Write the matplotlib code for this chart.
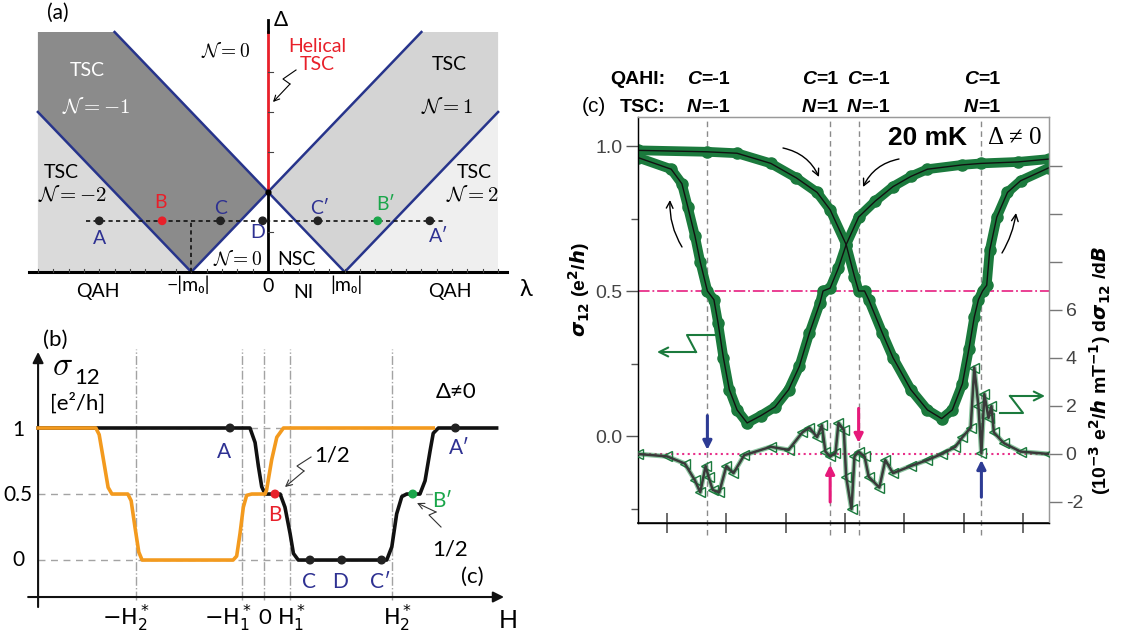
import matplotlib
matplotlib.use('Agg')
import matplotlib.pyplot as plt
from matplotlib.patches import Polygon, FancyArrowPatch
from matplotlib.lines import Line2D
import numpy as np

# ---------------- data ----------------
# panel (a): phase diagram
m0 = 1.0
lam_max = 3.0
delta_max = 3.0
dotted_delta = 0.64
pts_a_lam = [-2.20, -1.38, -0.62, -0.07, 0.65, 1.43, 2.11]
pts_a_col = ['#222222', '#e8202a', '#222222', '#222222', '#222222', '#1aa64a', '#222222']
labels_a = ['A', 'B', 'C', 'D', 'C\u2032', 'B\u2032', 'A\u2032']
labels_a_lam = [-2.20, -1.40, -0.62, -0.14, 0.68, 1.54, 2.23]
labels_a_delta = [0.425, 0.875, 0.80, 0.49, 0.80, 0.84, 0.44]
labels_a_col = ['#2e3192', '#e8202a', '#2e3192', '#2e3192', '#2e3192', '#1aa64a', '#2e3192']

# panel (b): schematic sigma12 vs H
H1s, H1s_neg, H2s = 1.0, -0.87, 5.0
black_H = [-8.84, -0.55, -0.35, -0.22, -0.09, 0.04, 0.63, 0.82, 1.02, 1.15, 1.34,
           4.80, 5.00, 5.19, 5.39, 5.58, 6.10, 6.30, 6.50, 6.62, 6.82, 9.10]
black_s = [1.0, 1.0, 0.89, 0.71, 0.555, 0.5, 0.5, 0.40, 0.20, 0.05, 0.0,
           0.0, 0.10, 0.35, 0.48, 0.5, 0.5, 0.60, 0.83, 0.96, 1.0, 1.0]
orange_H = [-8.84, -6.58, -6.45, -6.30, -6.10, -5.95, -5.33, -5.20, -5.05, -4.90, -4.77,
            -1.21, -1.07, -0.94, -0.81, -0.68, -0.48, 0.04, 0.10, 0.30, 0.50, 0.76, 6.62]
orange_s = [1.0, 1.0, 0.95, 0.78, 0.55, 0.5, 0.5, 0.45, 0.25, 0.06, 0.0,
            0.0, 0.03, 0.20, 0.40, 0.49, 0.5, 0.5, 0.53, 0.76, 0.93, 1.0, 1.0]
pts_b_H = [-1.33, 0.43, 1.80, 3.04, 4.60, 5.82, 7.49]
pts_b_s = [1.0, 0.5, 0.0, 0.0, 0.0, 0.5, 1.0]
pts_b_col = ['#222222', '#e8202a', '#222222', '#222222', '#222222', '#1aa64a', '#222222']
labels_b = ['A', 'B', 'C', 'D', 'C\u2032', 'B\u2032', 'A\u2032']
labels_b_H = [-1.56, 0.43, 1.76, 2.97, 4.54, 6.96, 7.63]
labels_b_s = [0.82, 0.34, -0.17, -0.17, -0.17, 0.45, 0.85]
labels_b_col = ['#2e3192', '#e8202a', '#2e3192', '#2e3192', '#2e3192', '#1aa64a', '#2e3192']
xtick_b_pos = [-5.4, -1.4, 0.04, 1.1, 5.24]
xtick_b_lab = [r'$-\mathrm{H}_2^*$', r'$-\mathrm{H}_1^*$', '0', r'$\mathrm{H}_1^*$', r'$\mathrm{H}_2^*$']

# panel (c): measured sigma12 and derivative
uA = [-3.49, -2.32, -1.82, -1.25, -0.82, -0.47, -0.25, 0.02, 0.16, 0.23,
      0.33, 0.40, 0.63, 0.81, 1.11, 1.39, 1.63, 1.81, 1.98, 2.09,
      2.18, 2.25, 2.32, 2.39, 2.44, 2.56, 2.74, 2.96, 3.44]
sA = [0.985, 0.98, 0.975, 0.94, 0.89, 0.84, 0.78, 0.66, 0.55, 0.50,
      0.50, 0.47, 0.355, 0.27, 0.16, 0.09, 0.06, 0.09, 0.18, 0.30,
      0.41, 0.47, 0.50, 0.52, 0.64, 0.755, 0.84, 0.88, 0.925]
uB = [3.44, 2.91, 2.30, 1.98, 1.39, 1.11, 0.81, 0.51, 0.23, 0.02,
      -0.11, -0.25, -0.37, -0.42, -0.60, -0.77, -0.95, -1.18, -1.42, -1.65,
      -1.82, -1.95, -2.05, -2.14, -2.21, -2.32, -2.44, -2.53, -2.65, -2.75,
      -2.93, -3.49]
sB = [0.955, 0.945, 0.94, 0.935, 0.92, 0.895, 0.86, 0.81, 0.755, 0.66,
      0.58, 0.51, 0.50, 0.46, 0.355, 0.24, 0.16, 0.10, 0.07, 0.045,
      0.09, 0.16, 0.27, 0.39, 0.47, 0.50, 0.60, 0.69, 0.79, 0.87,
      0.92, 0.96]
uD = [-3.49, -3.0, -2.70, -2.53, -2.44, -2.35, -2.30, -2.23, -2.12, -2.0,
      -1.88, -1.70, -1.25, -0.95, -0.72, -0.60, -0.47, -0.39, -0.33, -0.25,
      -0.16, -0.11, -0.02, 0.02, 0.11, 0.16, 0.23, 0.33, 0.40, 0.58,
      0.68, 0.81, 1.11, 1.39, 1.63, 1.86, 1.98, 2.12, 2.18, 2.25,
      2.30, 2.35, 2.42, 2.47, 2.51, 2.68, 2.96, 3.44]
dD = [0, -0.1, -0.4, -1.1, -1.6, -0.5, -0.95, -1.5, -1.6, -0.5,
      -0.8, -0.05, 0.3, 0.17, 0.9, 1.1, 0.7, 1.2, 0.1, -0.1,
      0.04, 1.3, 1.0, -0.95, -2.3, -0.1, 0.1, -0.1, -0.95, -1.4,
      -0.25, -0.8, -0.5, -0.25, 0, 0.3, 0.7, 1.1, 3.6, 2.0,
      0.04, 2.5, 1.5, 2.0, 0.9, 0.45, 0.1, 0]
trans_u = [-2.32, -0.25, 0.23, 2.30]
c_labels = ['-1', '1', '-1', '1']

# ---------------- figure ----------------
W, H = 1127, 639
plt.rcParams['font.family'] = ['Lato', 'DejaVu Sans']
plt.rcParams['mathtext.fontset'] = 'cm'
fig = plt.figure(figsize=(W / 100, H / 100), dpi=100)


def ftext(x, y, s, **kw):
    kw.setdefault('ha', 'center')
    kw.setdefault('va', 'center')
    return fig.text(x / W, 1 - y / H, s, **kw)


def zig(pts, color, lw=1.0, ms=12, style='->'):
    xs = [p[0] / W for p in pts]
    ys = [1 - p[1] / H for p in pts]
    fig.add_artist(Line2D(xs[:-1], ys[:-1], color=color, lw=lw, transform=fig.transFigure))
    fig.add_artist(FancyArrowPatch((xs[-2], ys[-2]), (xs[-1], ys[-1]), transform=fig.transFigure,
                                   arrowstyle=style, mutation_scale=ms, color=color, lw=lw,
                                   shrinkA=0, shrinkB=0))


def curved(p0, p1, rad, color='k', lw=1.0):
    fig.add_artist(FancyArrowPatch((p0[0] / W, 1 - p0[1] / H), (p1[0] / W, 1 - p1[1] / H),
                                   transform=fig.transFigure, connectionstyle=f'arc3,rad={rad}',
                                   arrowstyle='->', mutation_scale=12, color=color, lw=lw,
                                   shrinkA=0, shrinkB=0))


# ======== panel (a) ========
axa = fig.add_axes([0, 1 - 310 / H, 560 / W, 310 / H])
axa.set_xlim(-3.494, 3.807)
axa.set_ylim(-0.475, 3.4)
axa.axis('off')
L, D, m = lam_max, delta_max, m0
dark = [(-m, 0), (0, m), (-(D - m), D), (-L, D), (-L, L - m)]
n1 = [(m, 0), (0, m), (D - m, D), (L, D), (L, L - m)]
nm2 = [(-L, 0), (-m, 0), (-L, L - m)]
n2 = [(m, 0), (L, 0), (L, L - m)]
for poly, col in [(dark, '#8b8b8b'), (n1, '#d4d4d4'), (nm2, '#dadada'), (n2, '#efefef')]:
    axa.add_patch(Polygon(poly, closed=True, facecolor=col, edgecolor='none', zorder=1))
navy = '#27348b'
for (x0, y0), (x1, y1) in [((-m, 0), (D - m, D)), ((m, 0), (-(D - m), D)),
                           ((-m, 0), (-L, L - m)), ((m, 0), (L, L - m))]:
    axa.plot([x0, x1], [y0, y1], color=navy, lw=1.8, zorder=3)
axa.plot([-3.12, 3.12], [0, 0], color='k', lw=2.2, zorder=4)
for t in np.arange(-3.0, 3.01, 0.2):
    axa.plot([t, t], [0, 0.04], color='#444', lw=0.8, zorder=4)
axa.plot([0, 0], [0, m], color='k', lw=2, zorder=4)
axa.plot([0, 0], [m, D], color='#e8202a', lw=2, zorder=4)
axa.plot([0, 0], [D, 3.15], color='k', lw=2, zorder=4)
for t in [0.5, 1.5, 2.0, 2.5]:
    axa.plot([0, 0.06], [t, t], color='#444', lw=0.8, zorder=4)
axa.plot([-2.37, 2.29], [dotted_delta, dotted_delta], color='#111', lw=1.2,
         dashes=(2.5, 2), zorder=5)
axa.plot([-m, -m], [0, dotted_delta], color='#111', lw=1.2, dashes=(2.5, 2), zorder=5)
axa.scatter(pts_a_lam, [dotted_delta] * len(pts_a_lam), s=28, c=pts_a_col, zorder=6)
axa.scatter([0], [m], s=12, c='k', zorder=6)
for s, lx, ly, c in zip(labels_a, labels_a_lam, labels_a_delta, labels_a_col):
    axa.text(lx, ly, s, color=c, fontsize=14, ha='center', va='center', zorder=7)

ftext(58, 13, '(a)', fontsize=15)
ftext(281, 20, '\u0394', fontsize=15)
ftext(317, 47, 'Helical', fontsize=14, color='#e8202a')
ftext(317, 65, 'TSC', fontsize=14, color='#e8202a')
zig([(296, 70), (283, 79), (290, 84), (273, 102)], 'k', lw=0.8, ms=10)
ftext(226, 50, r'$\mathcal{N}=0$', fontsize=14)
ftext(87, 70, 'TSC', fontsize=14, color='white')
ftext(96, 106, r'$\mathcal{N}=-1$', fontsize=15, color='white')
ftext(449, 65, 'TSC', fontsize=14)
ftext(447, 106, r'$\mathcal{N}=1$', fontsize=15)
ftext(61, 172, 'TSC', fontsize=14)
ftext(72, 195, r'$\mathcal{N}=-2$', fontsize=15)
ftext(474, 172, 'TSC', fontsize=14)
ftext(472, 195, r'$\mathcal{N}=2$', fontsize=15)
ftext(238, 258, r'$\mathcal{N}=0$', fontsize=14)
ftext(296, 259, 'NSC', fontsize=14)
ftext(98, 292, 'QAH', fontsize=14)
ftext(188, 285, '\u2212|m\u2080|', fontsize=14)
ftext(268, 287, '0', fontsize=14)
ftext(303, 293, 'NI', fontsize=14)
ftext(346, 285, '|m\u2080|', fontsize=14)
ftext(450, 292, 'QAH', fontsize=14)
ftext(526, 290, '\u03bb', fontsize=17)

# ======== panel (b) ========
axb = fig.add_axes([0, 0, 560 / W, 319 / H])
axb.set_xlim(-10.33, 11.58)
axb.set_ylim(-0.598, 1.818)
axb.axis('off')
grey = '#a3a3a3'
for hv in [-H2s, H1s_neg, 0.0, H1s, H2s]:
    axb.plot([hv, hv], [-0.30, 1.60], color=grey, lw=1.0, ls='-.', zorder=1)
axb.plot([-8.84, 4.94], [1.0, 1.0], color=grey, lw=1.0, dashes=(5, 4), zorder=1)
axb.plot([-8.84, 6.75], [0.5, 0.5], color=grey, lw=1.0, dashes=(5, 4), zorder=1)
axb.plot([-8.84, 4.94], [0.0, 0.0], color=grey, lw=1.0, dashes=(5, 4), zorder=1)
axb.annotate('', xy=(9.39, -0.28), xytext=(-9.23, -0.28),
             arrowprops=dict(arrowstyle='-|>', lw=1.5, color='#111', mutation_scale=16,
                             shrinkA=0, shrinkB=0))
axb.annotate('', xy=(-8.84, 1.576), xytext=(-8.84, -0.356),
             arrowprops=dict(arrowstyle='-|>', lw=1.5, color='#111', mutation_scale=16,
                             shrinkA=0, shrinkB=0))
axb.plot(black_H, black_s, color='#111', lw=2.6, zorder=3, solid_joinstyle='round')
axb.plot(orange_H, orange_s, color='#f39a1e', lw=2.6, zorder=4, solid_joinstyle='round')
axb.scatter(pts_b_H, pts_b_s, s=30, c=pts_b_col, zorder=6)
for s, lx, ly, c in zip(labels_b, labels_b_H, labels_b_s, labels_b_col):
    axb.text(lx, ly, s, color=c, fontsize=15, ha='center', va='center', zorder=7)
for p, lab in zip(xtick_b_pos, xtick_b_lab):
    axb.text(p, -0.44, lab, fontsize=16, ha='center', va='center', math_fontfamily='dejavusans')
ftext(508, 620, 'H', fontsize=18)
ftext(18, 430, '1', fontsize=15)
ftext(33, 495, '0.5', fontsize=15, ha='right')
ftext(18, 560, '0', fontsize=15)
ftext(55, 340, '(b)', fontsize=16)
ftext(62, 366, r'$\sigma$', fontsize=24)
ftext(87, 378, '12', fontsize=16)
ftext(78, 403, '[e\u00b2/h]', fontsize=16)
ftext(456, 392, '\u0394\u22600', fontsize=16)
ftext(472, 577, '(c)', fontsize=16)
ftext(332, 455, '1/2', fontsize=16)
zig([(311, 457), (297, 466), (304, 471), (285, 487)], '#333', lw=0.8, ms=11)
ftext(450, 550, '1/2', fontsize=16)
zig([(441, 527), (429, 515), (436, 512), (417, 503)], '#333', lw=0.8, ms=11)

# ======== panel (c) ========
green = '#1b7a3d'
axc = fig.add_axes([638 / W, 1 - 523 / H, (1049 - 638) / W, (523 - 117) / H])
axc.set_xlim(-3.49, 3.44)
axc.set_ylim(-0.3, 1.1)
axr = axc.twinx()
axr.set_ylim(-2.875, 14.04)
for ax in (axc, axr):
    ax.patch.set_visible(False)
axc.spines['left'].set_color('#555')
axc.spines['bottom'].set_color('#222')
axc.spines['top'].set_color('#999')
axc.spines['right'].set_color('#999')
axr.spines['right'].set_color('#999')
axr.spines['top'].set_color('#999')
for sp in axr.spines.values():
    sp.set_linewidth(1.0)
axc.spines['bottom'].set_linewidth(1.3)

axc.set_xticks([-3, -2, -1, 0, 1, 2, 3])
axc.tick_params(axis='x', direction='inout', length=14, width=1.1, color='#444', labelbottom=False)
axc.set_yticks([0.0, 0.5, 1.0])
axc.set_yticklabels(['0.0', '0.5', '1.0'], fontfamily='Liberation Sans', fontsize=14, color='#444')
axc.set_yticks([-0.25, 0.25, 0.75], minor=True)
axc.tick_params(axis='y', which='major', direction='out', length=9, width=1, color='#555', pad=2)
axc.tick_params(axis='y', which='minor', direction='out', length=5, width=1, color='#555')
rt = [-2, 0, 2, 4, 6, 8, 10, 12]
axr.set_yticks(rt)
axr.set_yticklabels([str(v) if v <= 6 else '' for v in rt], fontfamily='Liberation Sans',
                    fontsize=14, color='#444')
axr.tick_params(axis='y', direction='out', length=9, width=1, color='#777', pad=3)

axc.axhline(0.5, color='#e8308a', lw=1.3, ls='-.', zorder=1)
axr.axhline(0.0, color='#e8308a', lw=1.5, ls=':', zorder=1)
for u in trans_u:
    axc.axvline(u, ymin=-0.03, ymax=1.0, color='#8a8a8a', lw=1.0, dashes=(4, 3), clip_on=False, zorder=1)

for uu, ss in [(uA, sA), (uB, sB)]:
    axc.plot(uu, ss, color=green, lw=7, solid_capstyle='round', solid_joinstyle='round', zorder=2)
    axc.plot(uu, ss, 'o', color=green, ms=8, zorder=3)
    axc.plot(uu, ss, color='#111', lw=1.0, zorder=4)

axr.plot(uD, dD, color='#2f9a55', lw=3.5, alpha=0.55, zorder=2)
axr.plot(uD, dD, '<', mfc='none', mec=green, ms=7, mew=1.0, zorder=3)
axr.plot(uD, dD, color='#3a3a3a', lw=1.8, zorder=4)

blue = '#2d3b94'
mag = '#e6197a'
for u, y0, y1, c in [(-2.32, 1.6, 0.17, blue), (2.30, -1.8, -0.25, blue),
                     (-0.25, -2.0, -0.45, mag), (0.23, 1.9, 0.46, mag)]:
    axr.annotate('', xy=(u, y1), xytext=(u, y0),
                 arrowprops=dict(arrowstyle='-|>', color=c, lw=2.2, mutation_scale=13,
                                 shrinkA=0, shrinkB=0))

# labels of panel (c)
fc = 'Liberation Sans'
ftext(665, 80, 'QAHI:', fontsize=14, fontweight='bold', ha='right', family=fc)
ftext(665, 107, 'TSC:', fontsize=14, fontweight='bold', ha='right', family=fc)
ftext(594, 107, '(c)', fontsize=15, family=fc)
c_centers = [708, 820, 868, 982]
for cx, lab in zip(c_centers, c_labels):
    w_rest = 28 if lab == '-1' else 22
    x0 = cx - (14 + w_rest) / 2 + 14
    ftext(x0, 80, 'C', fontsize=14, fontweight='bold', style='italic', ha='right', family=fc)
    ftext(x0, 80, '=' + lab, fontsize=14, fontweight='bold', ha='left', family=fc)
    ftext(x0, 107, 'N', fontsize=14, fontweight='bold', style='italic', ha='right', family=fc)
    ftext(x0, 107, '=' + lab, fontsize=14, fontweight='bold', ha='left', family=fc)
ftext(927, 138, '20 mK', fontsize=19, fontweight='bold', family=fc)
ftext(1015, 138, '\u0394 \u2260 0', fontsize=18, family=['Liberation Serif', 'DejaVu Serif'])
fig.text(579 / W, 1 - 290 / H, r'$\boldsymbol{\sigma}_{\mathbf{12}}$ (e$^{\mathbf{2}}$/$\boldsymbol{h}$)',
         fontsize=14, fontweight='bold', family=fc, rotation=90, ha='center', va='center',
         math_fontfamily='dejavusans')
fig.text(1100 / W, 1 - 370 / H,
         r'(10$^{\mathbf{-3}}$ e$^{\mathbf{2}}$/$\boldsymbol{h}$ mT$^{\mathbf{-1}}$) d$\boldsymbol{\sigma}_{\mathbf{12}}$ /d$\boldsymbol{B}$',
         fontsize=14, fontweight='bold', family=fc, rotation=90, ha='center', va='center',
         math_fontfamily='dejavusans')

curved((783, 148), (819, 177), -0.25)
curved((899, 159), (863, 187), 0.25)
curved((682, 247), (670, 200), -0.15)
curved((1002, 253), (1016, 213), 0.1)
zig([(717, 335), (687, 335), (696, 352), (657, 352)], green, lw=1.5, ms=16)
zig([(1000, 413), (1023, 413), (1010, 396), (1045, 396)], green, lw=1.5, ms=16)

fig.savefig('out.png', dpi=100)
